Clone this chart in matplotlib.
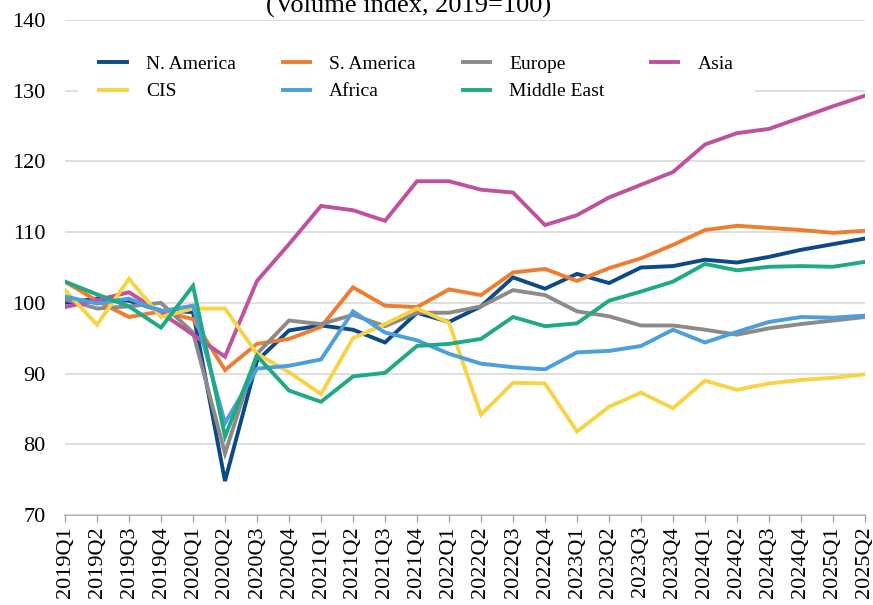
import matplotlib
matplotlib.use("Agg")
import matplotlib.pyplot as plt
import numpy as np

quarters = [f"{y}Q{q}" for y in range(2019, 2026) for q in range(1, 5)][:26]

n_america = [100.0, 100.6, 100.3, 98.9, 98.7, 74.8, 91.8, 96.1, 96.8, 96.2, 94.4, 98.6, 97.3,
             99.5, 103.6, 102.0, 104.1, 102.8, 105.0, 105.2, 106.1, 105.7, 106.5, 107.5, 108.3, 109.1]
s_america = [103.0, 100.3, 98.0, 98.8, 97.7, 90.5, 94.2, 94.9, 96.6, 102.2, 99.6, 99.4, 101.9,
             101.1, 104.3, 104.8, 103.1, 104.9, 106.3, 108.2, 110.3, 110.9, 110.6, 110.3, 109.9, 110.2]
europe = [100.5, 99.2, 99.5, 100.0, 95.8, 78.7, 92.8, 97.5, 97.0, 98.3, 96.7, 98.6, 98.6,
          99.5, 101.8, 101.1, 98.8, 98.1, 96.8, 96.8, 96.2, 95.5, 96.4, 97.0, 97.5, 98.0]
asia = [99.4, 100.4, 101.5, 98.6, 95.5, 92.4, 103.1, 108.3, 113.7, 113.1, 111.6, 117.2, 117.2,
        116.0, 115.6, 111.0, 112.4, 114.9, 116.7, 118.5, 122.4, 124.0, 124.6, 126.2, 127.8, 129.3]
cis = [101.8, 96.9, 103.4, 98.0, 99.2, 99.2, 92.8, 90.2, 87.1, 95.0, 97.0, 99.2, 97.2,
       84.2, 88.7, 88.6, 81.8, 85.3, 87.3, 85.1, 89.0, 87.7, 88.6, 89.1, 89.4, 89.9]
africa = [100.9, 99.9, 100.6, 98.8, 99.6, 83.0, 90.7, 91.1, 92.0, 98.8, 95.8, 94.7, 92.8,
          91.4, 90.9, 90.6, 93.0, 93.2, 93.9, 96.2, 94.4, 95.9, 97.3, 98.0, 97.9, 98.2]
middle_east = [103.0, 101.2, 99.5, 96.5, 102.4, 81.1, 92.5, 87.6, 86.0, 89.6, 90.1, 93.9, 94.2,
               94.9, 98.0, 96.7, 97.1, 100.3, 101.6, 103.0, 105.5, 104.6, 105.1, 105.2, 105.1, 105.8]

series = [
    ("N. America", n_america, "#0b4a86"),
    ("S. America", s_america, "#ef7d31"),
    ("Europe", europe, "#8f8a8a"),
    ("Asia", asia, "#c0519f"),
    ("CIS", cis, "#f7d445"),
    ("Africa", africa, "#4a9fdc"),
    ("Middle East", middle_east, "#1fa987"),
]

plt.rcParams["font.family"] = ["Liberation Serif", "DejaVu Serif"]

fig = plt.figure(figsize=(8.73, 6.05), dpi=100)
ax = fig.add_axes([65 / 873, 1 - 515 / 605, 800 / 873, 495 / 605])

x = np.arange(len(quarters))
lines = {}
for name, vals, color in series:
    lines[name], = ax.plot(x, vals, color=color, lw=2.8, label=name,
                           solid_joinstyle="miter", zorder=3)

ax.set_xlim(0, len(quarters) - 1)
ax.set_ylim(70, 140)
ax.set_yticks(np.arange(70, 141, 10))
ax.set_xticks(x)
ax.set_xticklabels(quarters, rotation=90, fontsize=16)
ax.tick_params(axis="y", length=0, pad=14, labelsize=16)
ax.tick_params(axis="x", direction="out", length=5, width=1, color="#a6a6a6", pad=3)

ax.grid(axis="y", color="#d9d9d9", lw=1.2, zorder=0)
for s in ["top", "right", "left"]:
    ax.spines[s].set_visible(False)
ax.spines["bottom"].set_color("#a6a6a6")
ax.spines["bottom"].set_linewidth(1.2)
ax.spines["bottom"].set_zorder(1)

# legend fills column-wise, so interleave the two rows
order = ["N. America", "CIS", "S. America", "Africa", "Europe", "Middle East", "Asia"]
leg = ax.legend([lines[n] for n in order], order, ncol=4, loc="upper left",
                bbox_to_anchor=(78 / 873, 1 - 34 / 605), bbox_transform=fig.transFigure,
                fontsize=14, frameon=True, fancybox=False, framealpha=1,
                edgecolor="none", facecolor="white", borderpad=1.1, borderaxespad=0,
                handlelength=1.4, handletextpad=1.0, columnspacing=2.4, labelspacing=0.5)
leg.set_zorder(5)

fig.text(409 / 873, 1 - 13 / 605, "(Volume index, 2019=100)", ha="center",
         va="baseline", fontsize=19)

fig.savefig("out.png", dpi=100)
